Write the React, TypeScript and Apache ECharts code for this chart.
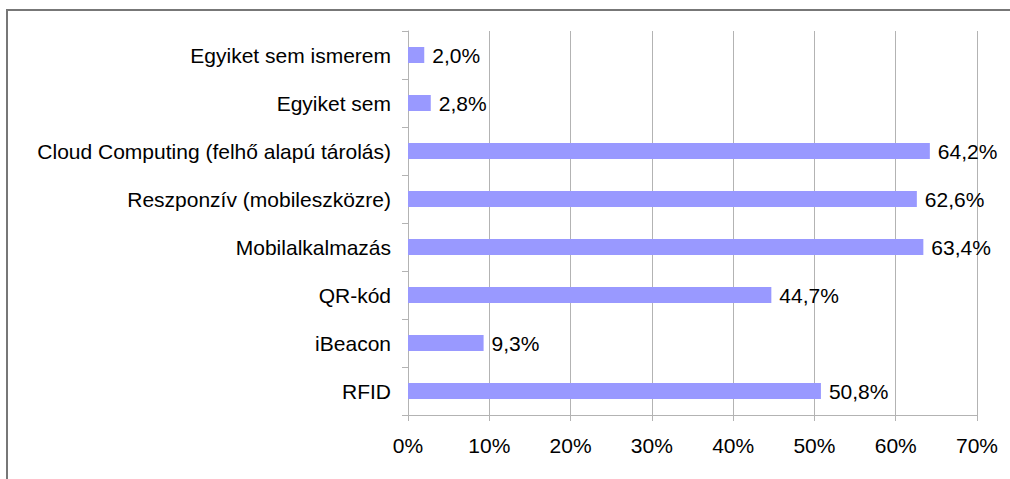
import React, { useEffect, useRef } from "react";
import * as echarts from "echarts";

const categories = [
  "RFID",
  "iBeacon",
  "QR-kód",
  "Mobilalkalmazás",
  "Reszponzív (mobileszközre)",
  "Cloud Computing (felhő alapú tárolás)",
  "Egyiket sem",
  "Egyiket sem ismerem",
];
const values = [50.8, 9.3, 44.7, 63.4, 62.6, 64.2, 2.8, 2.0];

const FONT = "'Liberation Sans', Arial, sans-serif";

export default function App() {
  const ref = useRef<HTMLDivElement>(null);
  useEffect(() => {
    if (!ref.current) return;
    const chart = echarts.init(ref.current, undefined, { renderer: "svg" });
    chart.setOption({
      animation: false,
      backgroundColor: "#ffffff",
      textStyle: { fontFamily: FONT },
      graphic: [
        {
          type: "rect",
          shape: { x: 7, y: 10, width: 1100, height: 600 },
          style: { fill: "none", stroke: "#777777", lineWidth: 2 },
          silent: true,
        },
      ],
      grid: { left: 408, right: 33, top: 31, bottom: 64 },
      xAxis: {
        type: "value",
        min: 0,
        max: 70,
        interval: 10,
        axisLine: { show: true, lineStyle: { color: "#b3b3b3", width: 1 } },
        axisTick: { show: true, length: 6, lineStyle: { color: "#b3b3b3" } },
        splitLine: { show: true, lineStyle: { color: "#b3b3b3", width: 1 } },
        axisLabel: {
          formatter: (v: number) => v + "%",
          color: "#000",
          fontSize: 21,
          fontFamily: FONT,
          margin: 20,
        },
      },
      yAxis: {
        type: "category",
        data: categories,
        axisLine: { show: true, lineStyle: { color: "#b3b3b3", width: 1 } },
        axisTick: { show: true, length: 6, lineStyle: { color: "#b3b3b3" } },
        axisLabel: {
          color: "#000",
          fontSize: 21,
          fontFamily: FONT,
          margin: 17,
        },
      },
      series: [
        {
          type: "bar",
          data: values,
          barWidth: 16,
          itemStyle: { color: "#9999ff" },
          label: {
            show: true,
            position: "right",
            distance: 8,
            color: "#000",
            fontSize: 21,
            fontFamily: FONT,
            formatter: (p: any) => p.value.toFixed(1).replace(".", ",") + "%",
          },
        },
      ],
    });
    return () => chart.dispose();
  }, []);
  return (
    <div
      ref={ref}
      style={{ position: "fixed", left: 0, top: 0, width: 1010, height: 479 }}
    />
  );
}
